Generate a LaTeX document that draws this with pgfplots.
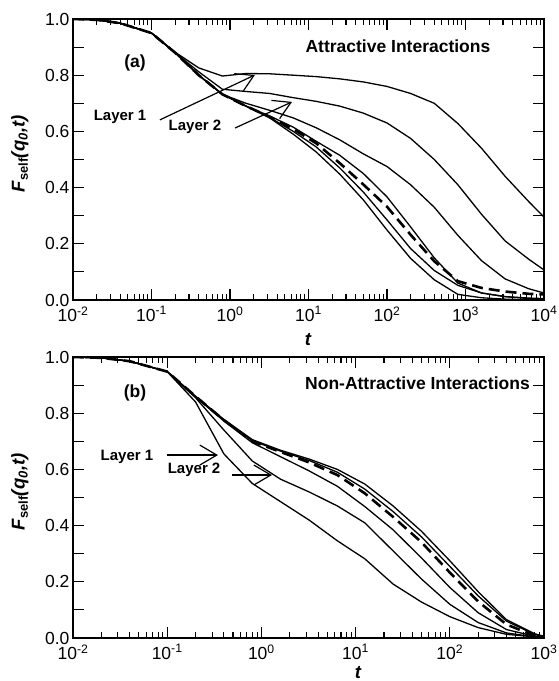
\documentclass[border=0pt]{standalone}
\usepackage{fontspec}
\setmainfont{Liberation Sans}
\usepackage{pgfplots}
\pgfplotsset{compat=1.18}
\usetikzlibrary{arrows.meta}

\tikzset{
  sl/.style={black, solid, line width=1.3pt, mark=none},
  dsh/.style={black, line width=2.6pt, dash pattern=on 11pt off 6pt, mark=none},
  ann/.style={font=\fontsize{17.5}{20}\selectfont\bfseries},
  lay/.style={font=\fontsize{15}{18}\selectfont\bfseries},
  arr/.style={line width=1.2pt, -{Straight Barb[length=17pt,width=20pt,line width=1.2pt]}},
}
\pgfplotsset{
  every axis/.append style={
    scale only axis, width=471pt, height=281pt,
    ymin=0, ymax=1,
    ytick={0,0.1,0.2,0.3,0.4,0.5,0.6,0.7,0.8,0.9,1},
    yticklabels={0.0,,0.2,,0.4,,0.6,,0.8,,1.0},
    tick align=inside, major tick length=11pt, minor tick length=6pt,
    every tick/.style={black, line width=1.1pt},
    axis line style={line width=1.8pt},
    tick label style={font=\fontsize{17.5}{20}\selectfont},
    xticklabel style={yshift=-3pt},
    label style={font=\fontsize{18.5}{21}\selectfont\bfseries\itshape},
    ylabel style={at={(axis description cs:-0.113,0.52)}, anchor=center},
  },
}

\begin{document}
\begin{tikzpicture}
\useasboundingbox (0,0) rectangle (559pt,681pt);
% ---------------- panel (a)
\begin{axis}[xmode=log, at={(73pt,381pt)}, anchor=south west,
  xmin=0.01, xmax=10000,
  xtick={0.01,0.1,1,10,100,1000,10000},
  xticklabels={10\textsuperscript{-2},10\textsuperscript{-1},10\textsuperscript{0},10\textsuperscript{1},10\textsuperscript{2},10\textsuperscript{3},10\textsuperscript{4}},
  minor xtick={0.02,0.03,0.04,0.05,0.06,0.07,0.08,0.09,0.2,0.3,0.4,0.5,0.6,0.7,0.8,0.9,2,3,4,5,6,7,8,9,20,30,40,50,60,70,80,90,200,300,400,500,600,700,800,900,2000,3000,4000,5000,6000,7000,8000,9000},
  xlabel={t},
  ylabel={F\textsubscript{\upshape self}(q\textsubscript{0},t)},
  xlabel style={at={(axis description cs:0.499,-0.142)}, anchor=center},
]
% Layer 1
\addplot[sl] coordinates {(0.01,1.0)(0.02,0.997)(0.04,0.985)(0.1,0.95)(0.2,0.882)(0.4,0.826)(0.8,0.797)(1.6,0.806)(3.2,0.805)(6.4,0.800)(12.5,0.795)(25,0.787)(50,0.776)(100,0.760)(200,0.735)(400,0.700)(800,0.628)(1600,0.540)(3200,0.440)(6400,0.350)(10000,0.295)};
% Layer 2
\addplot[sl] coordinates {(0.01,1.0)(0.02,0.997)(0.04,0.985)(0.1,0.95)(0.2,0.880)(0.4,0.812)(0.8,0.750)(1.6,0.742)(3.2,0.735)(6.4,0.720)(12.5,0.707)(25,0.690)(50,0.665)(100,0.630)(200,0.575)(400,0.500)(800,0.410)(1600,0.305)(3200,0.210)(6400,0.145)(10000,0.107)};
% third
\addplot[sl] coordinates {(0.01,1.0)(0.02,0.997)(0.04,0.985)(0.1,0.95)(0.2,0.880)(0.4,0.800)(0.8,0.732)(1.6,0.700)(3.2,0.675)(6.4,0.648)(12.5,0.613)(25,0.570)(50,0.520)(100,0.475)(200,0.410)(400,0.330)(800,0.230)(1600,0.140)(3200,0.075)(6400,0.040)(10000,0.025)};
% bundle right of dashed
\addplot[sl] coordinates {(0.01,1.0)(0.02,0.997)(0.04,0.985)(0.1,0.95)(0.2,0.880)(0.4,0.800)(0.8,0.732)(1.6,0.690)(3.2,0.655)(6.4,0.615)(12.5,0.565)(25,0.515)(50,0.450)(100,0.367)(200,0.260)(400,0.150)(800,0.060)(1600,0.025)(3200,0.012)(6400,0.007)(10000,0.005)};
% bundle left 1
\addplot[sl] coordinates {(0.01,1.0)(0.02,0.997)(0.04,0.985)(0.1,0.95)(0.2,0.880)(0.4,0.800)(0.8,0.732)(1.6,0.690)(3.2,0.650)(6.4,0.600)(12.5,0.545)(25,0.470)(50,0.384)(100,0.285)(200,0.183)(400,0.105)(800,0.052)(1600,0.025)(3200,0.012)(6400,0.005)(10000,0.003)};
% bundle left 2
\addplot[sl] coordinates {(0.01,1.0)(0.02,0.997)(0.04,0.985)(0.1,0.95)(0.2,0.880)(0.4,0.800)(0.8,0.732)(1.6,0.690)(3.2,0.648)(6.4,0.590)(12.5,0.527)(25,0.448)(50,0.356)(100,0.249)(200,0.148)(400,0.072)(800,0.020)(1600,0.008)(3200,0.003)(6400,0.001)(10000,0.0)};
% dashed
\addplot[dsh] coordinates {(0.01,1.0)(0.02,0.997)(0.04,0.985)(0.1,0.95)(0.2,0.880)(0.4,0.800)(0.8,0.732)(1.6,0.690)(3.2,0.652)(6.4,0.608)(12.5,0.558)(25,0.487)(50,0.411)(100,0.332)(200,0.232)(400,0.138)(800,0.067)(1600,0.043)(3200,0.030)(6400,0.022)(10000,0.020)};
\node[ann] at (axis cs:0.0617,0.843) {(a)};
\node[ann] at (axis cs:138,0.904) {Attractive Interactions};
\node[lay] at (axis cs:0.0398,0.651) {Layer 1};
\node[lay] at (axis cs:0.358,0.616) {Layer 2};
\draw[arr] (axis cs:0.128,0.641) -- (axis cs:2.08,0.801);
\draw[arr] (axis cs:1.16,0.612) -- (axis cs:6.17,0.705);
\end{axis}
% ---------------- panel (b)
\begin{axis}[xmode=log, at={(73pt,43pt)}, anchor=south west,
  xmin=0.01, xmax=1000,
  xtick={0.01,0.1,1,10,100,1000},
  xticklabels={10\textsuperscript{-2},10\textsuperscript{-1},10\textsuperscript{0},10\textsuperscript{1},10\textsuperscript{2},10\textsuperscript{3}},
  minor xtick={0.02,0.03,0.04,0.05,0.06,0.07,0.08,0.09,0.2,0.3,0.4,0.5,0.6,0.7,0.8,0.9,2,3,4,5,6,7,8,9,20,30,40,50,60,70,80,90,200,300,400,500,600,700,800,900},
  xlabel={t},
  ylabel={F\textsubscript{\upshape self}(q\textsubscript{0},t)},
  xlabel style={at={(axis description cs:0.605,-0.122)}, anchor=center},
]
% Layer 1
\addplot[sl] coordinates {(0.01,1.0)(0.02,0.997)(0.04,0.985)(0.1,0.948)(0.2,0.840)(0.4,0.655)(0.8,0.550)(1.6,0.485)(3.2,0.420)(6.4,0.346)(12.5,0.282)(25,0.192)(50,0.128)(100,0.076)(200,0.037)(400,0.013)(800,0.004)(1000,0.002)};
% Layer 2
\addplot[sl] coordinates {(0.01,1.0)(0.02,0.997)(0.04,0.985)(0.1,0.948)(0.2,0.855)(0.4,0.740)(0.8,0.630)(1.6,0.565)(3.2,0.520)(6.4,0.470)(12.5,0.410)(25,0.310)(50,0.210)(100,0.120)(200,0.055)(400,0.018)(800,0.004)(1000,0.002)};
% third
\addplot[sl] coordinates {(0.01,1.0)(0.02,0.997)(0.04,0.985)(0.1,0.948)(0.2,0.858)(0.4,0.772)(0.8,0.695)(1.6,0.645)(3.2,0.595)(6.4,0.540)(12.5,0.468)(25,0.385)(50,0.285)(100,0.180)(200,0.090)(400,0.030)(800,0.006)(1000,0.003)};
% above dashed
\addplot[sl] coordinates {(0.01,1.0)(0.02,0.997)(0.04,0.985)(0.1,0.948)(0.2,0.86)(0.4,0.775)(0.8,0.702)(1.6,0.665)(3.2,0.632)(6.4,0.590)(12.5,0.530)(25,0.450)(50,0.360)(100,0.255)(200,0.150)(400,0.060)(800,0.012)(1000,0.005)};
% top
\addplot[sl] coordinates {(0.01,1.0)(0.02,0.997)(0.04,0.985)(0.1,0.948)(0.2,0.86)(0.4,0.778)(0.8,0.706)(1.6,0.668)(3.2,0.637)(6.4,0.600)(12.5,0.548)(25,0.470)(50,0.380)(100,0.275)(200,0.165)(400,0.065)(800,0.015)(1000,0.006)};
% dashed
\addplot[dsh] coordinates {(0.01,1.0)(0.02,0.997)(0.04,0.985)(0.1,0.948)(0.2,0.86)(0.4,0.775)(0.8,0.70)(1.6,0.662)(3.2,0.625)(6.4,0.580)(12.5,0.515)(25,0.431)(50,0.341)(100,0.233)(200,0.130)(400,0.048)(800,0.008)(1000,0.004)};
\node[ann] at (axis cs:0.0455,0.872) {(b)};
\node[ann] at (axis cs:45.4,0.907) {Non-Attractive Interactions};
\node[lay] at (axis cs:0.0374,0.644) {Layer 1};
\node[lay] at (axis cs:0.193,0.598) {Layer 2};
\draw[arr] (axis cs:0.0995,0.651) -- (axis cs:0.346,0.651);
\draw[arr] (axis cs:0.488,0.58) -- (axis cs:1.296,0.58);
\end{axis}
\end{tikzpicture}
\end{document}
